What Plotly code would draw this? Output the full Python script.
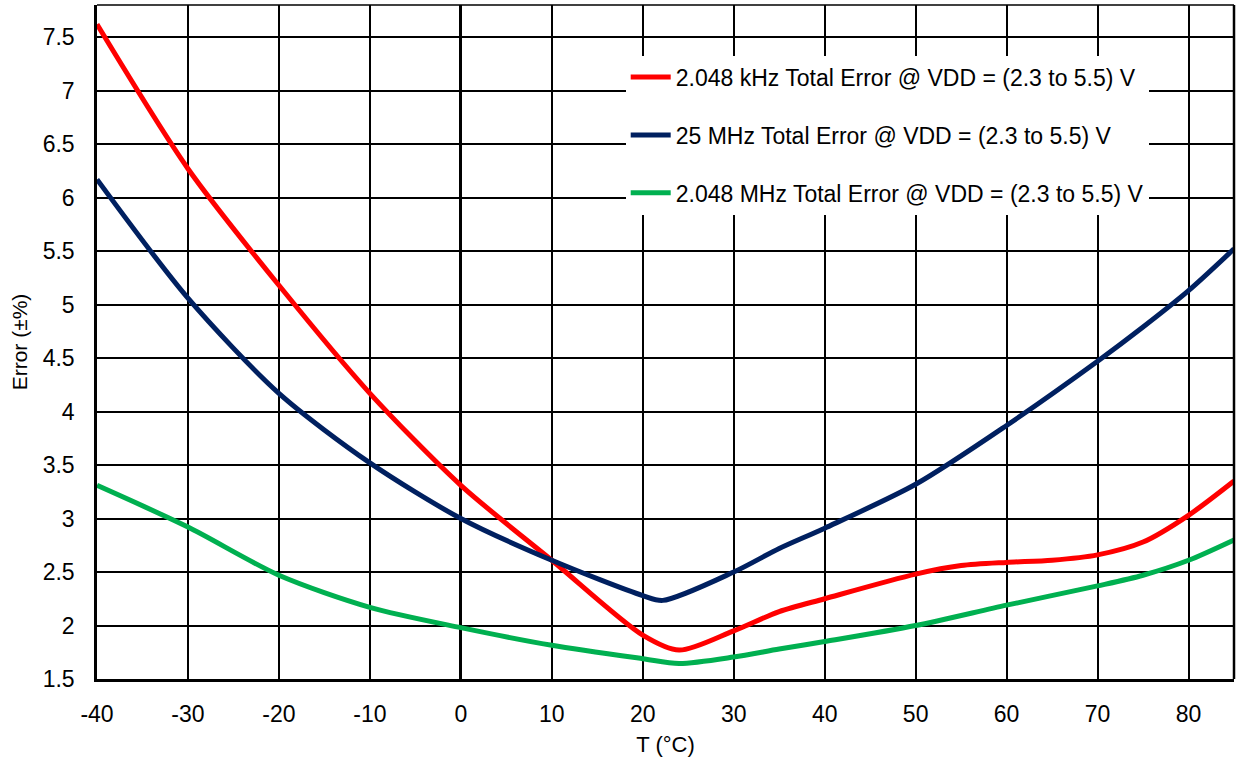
import plotly.graph_objects as go

# Temperature points (°C)
temps_khz = [-40, -30, -20, -10, 0, 10, 20, 24, 30, 35, 40, 50, 55, 60, 65, 70, 75, 80, 85]
err_khz = [7.62, 6.27, 5.18, 4.17, 3.31, 2.61, 1.91, 1.77, 1.95, 2.13, 2.25, 2.48, 2.56, 2.59, 2.61, 2.66, 2.78, 3.03, 3.35]

temps_25m = [-40, -30, -20, -10, 0, 10, 20, 22.2, 30, 35, 40, 50, 60, 70, 75, 80, 85]
err_25m = [6.17, 5.06, 4.17, 3.52, 3.0, 2.61, 2.28, 2.235, 2.5, 2.72, 2.91, 3.32, 3.87, 4.47, 4.79, 5.13, 5.52]

temps_2m = [-40, -30, -20, -10, 0, 10, 20, 24, 30, 35, 40, 50, 60, 70, 75, 80, 85]
err_2m = [3.31, 2.92, 2.47, 2.17, 1.98, 1.815, 1.69, 1.645, 1.705, 1.78, 1.85, 2.0, 2.19, 2.37, 2.47, 2.61, 2.80]

series_names = [
    "2.048 kHz Total Error @ VDD = (2.3 to 5.5) V",
    "25 MHz Total Error @ VDD = (2.3 to 5.5) V",
    "2.048 MHz Total Error @ VDD = (2.3 to 5.5) V",
]
series_colors = ["#FF0000", "#002060", "#00B050"]

x_tickvals = [-40, -30, -20, -10, 0, 10, 20, 30, 40, 50, 60, 70, 80]
x_ticktext = ["-40", "-30", "-20", "-10", "0", "10", "20", "30", "40", "50", "60", "70", "80"]
y_tickvals = [1.5, 2, 2.5, 3, 3.5, 4, 4.5, 5, 5.5, 6, 6.5, 7, 7.5]
y_ticktext = ["1.5", "2", "2.5", "3", "3.5", "4", "4.5", "5", "5.5", "6", "6.5", "7", "7.5"]

FONT = "Liberation Sans, Arial, sans-serif"

fig = go.Figure()
for i, (xs, ys) in enumerate([(temps_khz, err_khz), (temps_25m, err_25m), (temps_2m, err_2m)]):
    fig.add_trace(go.Scatter(
        x=xs, y=ys, mode="lines", name=series_names[i],
        legendgroup=f"g{i}",
        line=dict(color=series_colors[i], width=5, shape="spline", smoothing=0.8),
    ))

fig.update_layout(
    width=1238, height=759,
    margin=dict(l=97, r=4, t=5, b=80),
    paper_bgcolor="white", plot_bgcolor="white",
    font=dict(family=FONT, size=23, color="black"),
    showlegend=True,
    legend=dict(
        x=0.465, y=0.925, xanchor="left", yanchor="top",
        bgcolor="white", borderwidth=0,
        font=dict(family=FONT, size=23, color="black"),
        traceorder="grouped", tracegroupgap=25,
        itemwidth=40,
    ),
    xaxis=dict(
        range=[-40, 85], tickvals=x_tickvals, ticktext=x_ticktext,
        showgrid=True, gridcolor="black", gridwidth=1.5,
        zeroline=True, zerolinecolor="black", zerolinewidth=3,
        showline=True, linecolor="black", linewidth=3,
        ticks="", ticklabelstandoff=12,
        title=dict(text="T (°C)", standoff=12, font=dict(size=22)),
    ),
    yaxis=dict(
        range=[1.5, 7.8], tickvals=y_tickvals, ticktext=y_ticktext,
        showgrid=True, gridcolor="black", gridwidth=1.5,
        zeroline=False,
        showline=True, linecolor="black", linewidth=2.5,
        ticks="", ticklabelstandoff=15,
        title=dict(text="Error (±%)", standoff=10, font=dict(size=21)),
    ),
    shapes=[
        dict(type="line", xref="paper", yref="paper", x0=0, x1=1, y0=1, y1=1,
             line=dict(color="black", width=1.5)),
        dict(type="line", xref="paper", yref="paper", x0=1, x1=1, y0=0, y1=1,
             line=dict(color="black", width=2.5)),
    ],
)

fig.write_html(
    "out.html",
    config={"displayModeBar": False},
    post_script="document.body.style.margin='0';document.body.style.overflow='hidden';",
)
